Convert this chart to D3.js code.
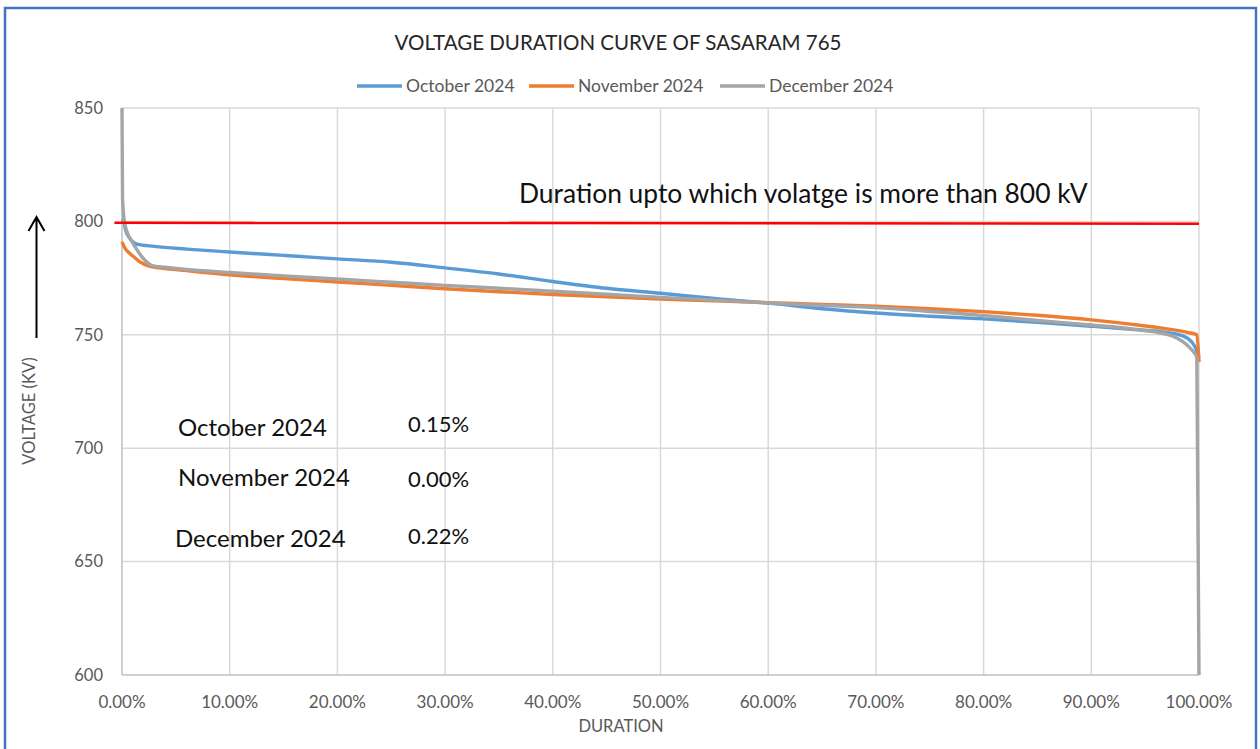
<!DOCTYPE html>
<html>
<head>
<meta charset="utf-8">
<script src="https://cdn.jsdelivr.net/npm/d3@7"></script>
<style>
  html, body { margin: 0; padding: 0; background: #fff; }
  svg { display: block; font-family: Lato, "Open Sans", sans-serif; }
</style>
</head>
<body>
<svg id="chart" width="1260" height="749"></svg>
<script>
// ── Data ──
const seriesNames = ["October 2024", "November 2024", "December 2024"];
const seriesColors = ["#5B9BD5", "#ED7D31", "#A5A5A5"];

// duration (%) / voltage (kV)
const octDuration = [0, 0.15, 0.35, 0.7, 1.4, 3, 6, 10, 15, 20, 25, 30, 35, 40, 45, 50, 55, 60, 65, 70, 75, 80, 85, 90, 94, 97, 98.5, 99.3, 99.7, 100];
const octVoltage  = [801, 800, 796, 792.7, 790, 789, 787.8, 786.5, 785, 783.5, 782, 779.5, 776.8, 773.5, 770.5, 768.3, 766, 764, 761.5, 759.6, 758.2, 757, 755.5, 753.8, 752.3, 751, 749.5, 747, 744, 740];

const novDuration = [0, 0.3, 0.7, 1.2, 1.7, 2.5, 3.5, 6, 10, 15, 20, 25, 30, 35, 40, 45, 50, 55, 60, 65, 70, 75, 80, 85, 90, 94, 97, 99, 99.8, 100];
const novVoltage  = [791, 788, 786, 784, 782, 780.3, 779.5, 778.3, 776.5, 774.8, 773.3, 771.8, 770.3, 769, 767.8, 766.8, 765.8, 765, 764.2, 763.4, 762.6, 761.5, 760.2, 758.6, 756.6, 754.5, 752.6, 751, 750, 738];

const decDuration = [0, 0.05, 0.22, 0.5, 1, 1.6, 2.2, 2.8, 4, 6, 10, 15, 20, 25, 30, 35, 40, 45, 50, 55, 60, 65, 70, 75, 80, 85, 90, 94, 96, 97.5, 98.5, 99.3, 99.8, 100];
const decVoltage  = [850, 810, 800, 795, 790.5, 786, 782.5, 780.5, 779.8, 778.8, 777.5, 776, 774.6, 773.2, 771.8, 770.5, 769.2, 767.9, 766.5, 765.3, 764, 763, 762, 760.3, 758.5, 756.3, 754.3, 752.5, 751.2, 749.5, 747, 743.5, 740, 600];

// red reference line drawn across the plot
const limitDuration = [-0.7, 100];
const limitVoltage  = [799.4, 799.0];

const xTicks = [0, 10, 20, 30, 40, 50, 60, 70, 80, 90, 100];
const yTicks = [600, 650, 700, 750, 800, 850];

const summaryMonths = ["October 2024", "November 2024", "December 2024"];
const summaryShares = ["0.15%", "0.00%", "0.22%"];

// ── Setup ──
const svg = d3.select("#chart");
const x = d3.scaleLinear().domain([0, 100]).range([122, 1199]);
const y = d3.scaleLinear().domain([600, 850]).range([675, 108]);

const zip = (ds, vs) => ds.map((d, i) => ({ d, v: vs[i] }));
const series = [
  zip(octDuration, octVoltage),
  zip(novDuration, novVoltage),
  zip(decDuration, decVoltage),
];

// outer frame
svg.append("rect")
  .attr("x", 5).attr("y", 8)
  .attr("width", 1251).attr("height", 760)
  .attr("fill", "#fff")
  .attr("stroke", "#4472C4")
  .attr("stroke-width", 2.5);

// ── Grid ──
const grid = svg.append("g");
grid.selectAll("line.v")
  .data(xTicks.slice(1))
  .join("line")
  .attr("x1", d => x(d)).attr("x2", d => x(d))
  .attr("y1", y(850)).attr("y2", y(600))
  .attr("stroke", "#d9d9d9").attr("stroke-width", 1.5);
grid.selectAll("line.h")
  .data(yTicks.slice(1))
  .join("line")
  .attr("x1", x(0)).attr("x2", x(100))
  .attr("y1", d => y(d)).attr("y2", d => y(d))
  .attr("stroke", "#d9d9d9").attr("stroke-width", 1.5);

// axis lines
svg.append("line")
  .attr("x1", x(0)).attr("x2", x(0)).attr("y1", y(850)).attr("y2", y(600))
  .attr("stroke", "#bfbfbf").attr("stroke-width", 1.5);
svg.append("line")
  .attr("x1", x(0)).attr("x2", x(100)).attr("y1", y(600)).attr("y2", y(600))
  .attr("stroke", "#bfbfbf").attr("stroke-width", 1.5);

// ── Tick labels ──
svg.append("g").selectAll("text")
  .data(yTicks)
  .join("text")
  .attr("x", 103)
  .attr("y", d => y(d))
  .attr("dy", "0.35em")
  .attr("text-anchor", "end")
  .attr("font-size", 16.5)
  .attr("fill", "#595959")
  .text(d => d);

svg.append("g").selectAll("text")
  .data(xTicks)
  .join("text")
  .attr("x", d => x(d))
  .attr("y", 708)
  .attr("text-anchor", "middle")
  .attr("font-size", 17)
  .attr("fill", "#595959")
  .text(d => d3.format(".2f")(d) + "%");

// ── Series ──
const line = d3.line()
  .x(p => x(p.d))
  .y(p => y(p.v))
  .curve(d3.curveMonotoneX);

svg.append("g").selectAll("path")
  .data(series)
  .join("path")
  .attr("d", line)
  .attr("fill", "none")
  .attr("stroke", (d, i) => seriesColors[i])
  .attr("stroke-width", 3.4)
  .attr("stroke-linejoin", "round");

// red 800 kV line
svg.append("path")
  .attr("d", d3.line().x(p => x(p.d)).y(p => y(p.v))(zip(limitDuration, limitVoltage)))
  .attr("fill", "none")
  .attr("stroke", "#FF0000")
  .attr("stroke-width", 2.5);

// ── Title & legend ──
svg.append("text")
  .attr("x", 618).attr("y", 50)
  .attr("text-anchor", "middle")
  .attr("font-size", 20.5)
  .attr("fill", "#262626")
  .text("VOLTAGE DURATION CURVE OF SASARAM 765");

const legendX = [357, 529, 720];
const legend = svg.append("g").selectAll("g")
  .data(seriesNames)
  .join("g")
  .attr("transform", (d, i) => `translate(${legendX[i]},86)`);
legend.append("line")
  .attr("x1", 0).attr("x2", 45)
  .attr("stroke", (d, i) => seriesColors[i])
  .attr("stroke-width", 3.4);
legend.append("text")
  .attr("x", 49).attr("dy", "0.35em")
  .attr("font-size", 17.5)
  .attr("fill", "#595959")
  .text(d => d);

// ── Axis titles ──
svg.append("text")
  .attr("x", 621).attr("y", 732)
  .attr("text-anchor", "middle")
  .attr("font-size", 16.5)
  .attr("fill", "#595959")
  .text("DURATION");

svg.append("text")
  .attr("transform", "translate(35,411) rotate(-90)")
  .attr("text-anchor", "middle")
  .attr("font-size", 16.5)
  .attr("fill", "#595959")
  .text("VOLTAGE (KV)");

// arrow next to the y title
svg.append("path")
  .attr("d", "M36.5,338 V217 M28.5,231 L36.5,217 L44.5,231")
  .attr("fill", "none")
  .attr("stroke", "#000")
  .attr("stroke-width", 2);

// ── Annotations ──
svg.append("text")
  .attr("x", 519).attr("y", 203)
  .attr("font-size", 26.4)
  .attr("fill", "#111")
  .text("Duration upto which volatge is more than 800 kV");

const monthX = [178, 178, 175];
const monthY = [436, 486, 547];
const shareY = [432, 487, 544];
svg.append("g").selectAll("text")
  .data(summaryMonths)
  .join("text")
  .attr("x", (d, i) => monthX[i])
  .attr("y", (d, i) => monthY[i])
  .attr("font-size", 24)
  .attr("fill", "#111")
  .text(d => d);
svg.append("g").selectAll("text")
  .data(summaryShares)
  .join("text")
  .attr("x", 408)
  .attr("y", (d, i) => shareY[i])
  .attr("font-size", 22)
  .attr("fill", "#111")
  .text(d => d);
</script>
</body>
</html>
